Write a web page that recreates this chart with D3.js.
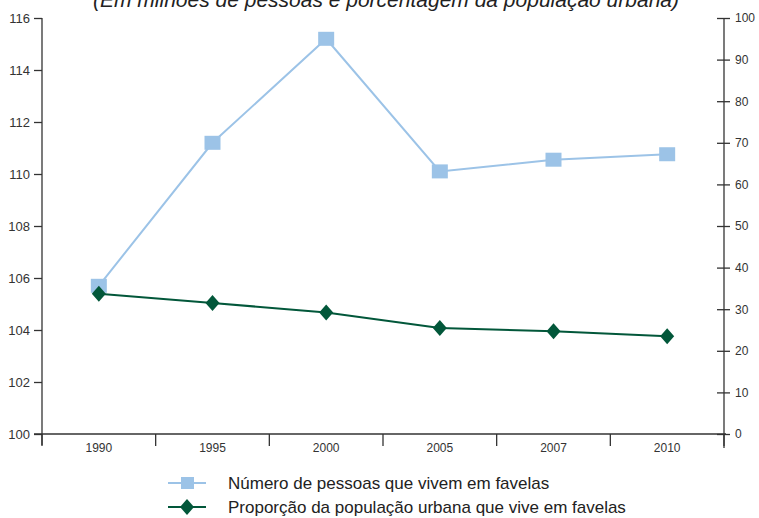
<!DOCTYPE html>
<html>
<head>
<meta charset="utf-8">
<script src="https://cdn.jsdelivr.net/npm/d3@7"></script>
<style>
  body { margin: 0; background: #fff; }
  text { font-family: "Liberation Sans", Arial, sans-serif; }
</style>
</head>
<body>
<div id="chart"></div>
<script>
// chart data
let years = ["1990", "1995", "2000", "2005", "2007", "2010"];
let slumPop = [105.7, 111.2, 115.2, 110.1, 110.55, 110.76];   // millions
let slumShare = [33.7, 31.5, 29.2, 25.5, 24.7, 23.5];       // percent
let leftTicks = [100, 102, 104, 106, 108, 110, 112, 114, 116];
let rightTicks = [0, 10, 20, 30, 40, 50, 60, 70, 80, 90, 100];
let title = "(Em milhões de pessoas e porcentagem da população urbana)";
let legendLabels = ["Número de pessoas que vivem em favelas", "Proporção da população urbana que vive em favelas"];

let width = 759;
let height = 518;
let padLeft = 42, padRight = 724, padTop = 18, padBottom = 434;
let blue = "#9cc3e7", green = "#02573a", axisColor = "#333";

let svg = d3.select("#chart").append("svg")
    .attr("width", width)
    .attr("height", height);

let x = d3.scaleBand().domain(years).range([padLeft, padRight]);
let yL = d3.scaleLinear().domain([100, 116]).range([padBottom, padTop]);
let yR = d3.scaleLinear().domain([0, 100]).range([padBottom, padTop]);

// title (cut off at top, as in the original)
svg.append("text")
    .attr("x", 386)
    .attr("y", 7)
    .attr("text-anchor", "middle")
    .attr("font-style", "italic")
    .attr("font-size", 21)
    .attr("fill", "#222")
    .text(title);

// left axis
let gL = svg.append("g")
    .attr("transform", `translate(${padLeft},0)`)
    .call(d3.axisLeft(yL).tickValues(leftTicks).tickSize(8).tickPadding(4).tickSizeOuter(0));
// right axis
let gR = svg.append("g")
    .attr("transform", `translate(${padRight},0)`)
    .call(d3.axisRight(yR).tickValues(rightTicks).tickSize(6).tickPadding(5).tickSizeOuter(0));
gR.selectAll(".tick line").attr("x1", -7).attr("x2", 6);
// bottom axis: ticks between categories
let gB = svg.append("g")
    .attr("transform", `translate(0,${padBottom})`)
    .call(d3.axisBottom(x).tickSize(0).tickPadding(9).tickSizeOuter(0));
gB.selectAll(".sep")
    .data(years.concat(["end"]))
    .enter().append("line")
    .attr("class", "sep")
    .attr("x1", (d, i) => padLeft + i * x.bandwidth())
    .attr("x2", (d, i) => padLeft + i * x.bandwidth())
    .attr("y1", 0).attr("y2", 12)
    .attr("stroke", axisColor).attr("stroke-width", 1.3);

[gL, gR, gB].forEach(g => {
    g.select(".domain").attr("stroke", axisColor).attr("stroke-width", 1.3);
    g.selectAll(".tick line").attr("stroke", axisColor).attr("stroke-width", 1.3);
    g.selectAll(".tick text").attr("fill", "#333").attr("font-size", 12)
        .attr("font-family", "Liberation Sans, Arial, sans-serif");
});
gL.selectAll(".tick text").attr("font-size", 13);
gL.select(".domain").attr("d", `M0,${padTop}V${padBottom + 11}`);
gR.select(".domain").attr("d", `M0,${padTop}V${padBottom + 14}`);
gB.select(".domain").attr("d", `M${padLeft - 8},0H${padRight + 2}`);

let cx = d => x(d) + x.bandwidth() / 2;

// series 1: slum population (left axis)
svg.append("path")
    .datum(slumPop)
    .attr("fill", "none")
    .attr("stroke", blue)
    .attr("stroke-width", 2)
    .attr("d", d3.line().x((d, i) => cx(years[i])).y(d => yL(d)));
svg.selectAll(".sq")
    .data(slumPop)
    .enter().append("rect")
    .attr("class", "sq")
    .attr("x", (d, i) => cx(years[i]) - 8)
    .attr("y", d => yL(d) - 7)
    .attr("width", 16).attr("height", 14)
    .attr("fill", blue);

// series 2: share of urban population (right axis)
svg.append("path")
    .datum(slumShare)
    .attr("fill", "none")
    .attr("stroke", green)
    .attr("stroke-width", 2)
    .attr("d", d3.line().x((d, i) => cx(years[i])).y(d => yR(d)));
let diamond = "M0,-8L7,0L0,8L-7,0Z";
svg.selectAll(".dm")
    .data(slumShare)
    .enter().append("path")
    .attr("class", "dm")
    .attr("transform", (d, i) => `translate(${cx(years[i])},${yR(d)})`)
    .attr("d", diamond)
    .attr("fill", green);

// legend
let lg = svg.append("g");
[0, 1].forEach(i => {
    let ly = 483 + i * 24;
    let col = i === 0 ? blue : green;
    lg.append("line").attr("x1", 168).attr("x2", 206).attr("y1", ly).attr("y2", ly)
        .attr("stroke", col).attr("stroke-width", 2);
    if (i === 0) {
        lg.append("rect").attr("x", 181).attr("y", ly - 6).attr("width", 13).attr("height", 12).attr("fill", col);
    } else {
        lg.append("path").attr("transform", `translate(187,${ly})`).attr("d", diamond).attr("fill", col);
    }
    lg.append("text").attr("x", 228).attr("y", ly + 6)
        .attr("font-size", 17).attr("fill", "#222")
        .text(legendLabels[i]);
});
</script>
</body>
</html>
